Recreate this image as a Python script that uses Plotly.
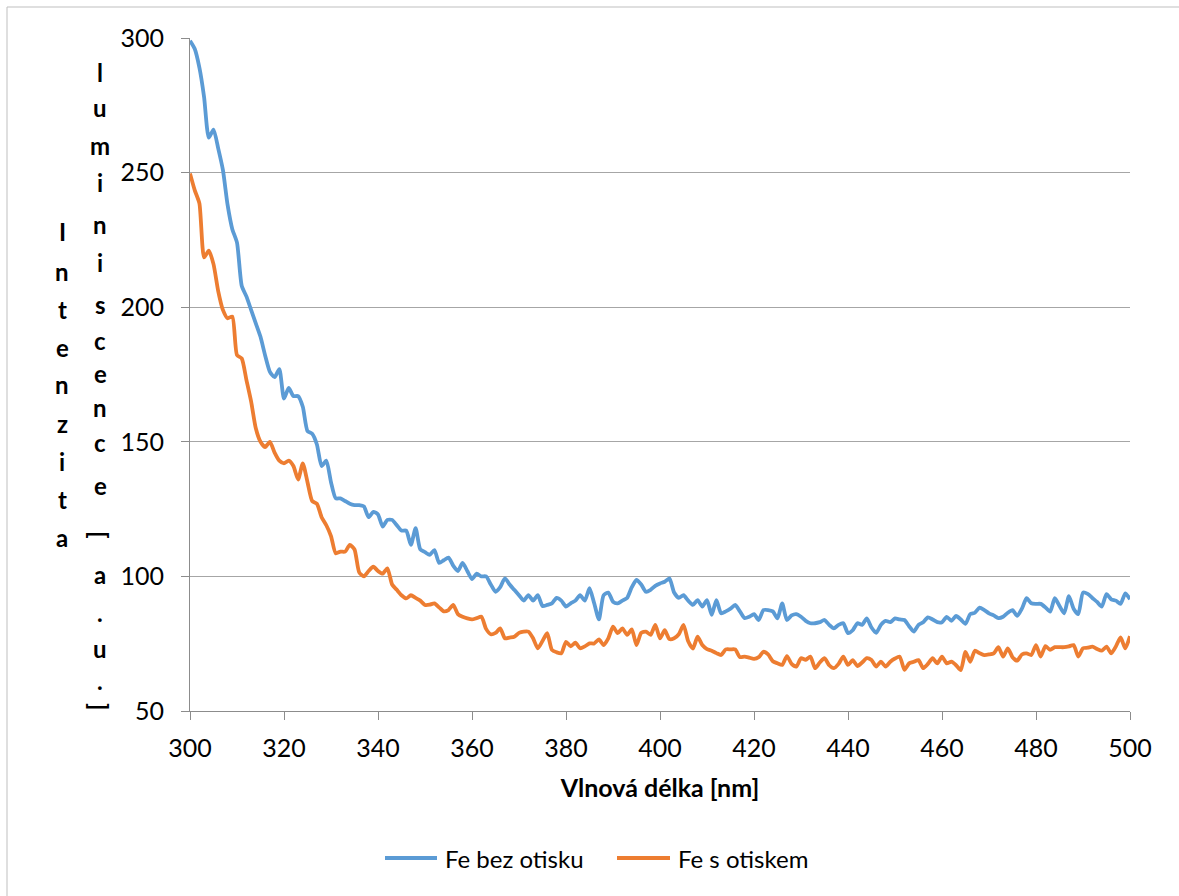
import plotly.graph_objects as go

# Wavelength axis (nm), 1 nm step
wavelength = list(range(300, 501))

# Luminescence intensity [a.u.] – Fe without imprint
fe_bez_otisku = [
    299, 296, 289, 278, 263, 266, 259, 251, 238, 229,
    224, 208, 204, 199, 194, 189, 182, 176, 174, 177,
    166, 170, 167, 167, 163, 154, 153, 149, 141, 143,
    135, 129, 129, 128, 127, 126.5, 126.5, 126, 122, 124,
    123, 118.5, 121, 121, 119, 117, 117, 111.7, 117.9, 110,
    109, 108, 109.8, 105, 106, 107, 104, 102, 105, 102,
    99, 101, 100, 100, 97, 94.3, 96, 99.3, 97, 95,
    93, 91, 93, 91, 93, 89, 89.4, 90, 92, 91,
    88.8, 90, 91, 93, 91, 95.6, 90, 84, 93, 94,
    90.6, 90, 91, 92, 96, 98.7, 97, 94.3, 95, 96.5,
    97.4, 98, 99.3, 94, 92, 93, 91, 89.4, 91.2, 88.8,
    91.2, 85.7, 91.2, 86.3, 87, 88, 89.4, 87, 84.5, 85,
    86, 83.8, 87.5, 87.5, 87, 84.4, 90, 83.8, 85.5, 86,
    85, 83.5, 82.6, 82.6, 83, 83.8, 82, 80.7, 82, 82.6,
    78.9, 80, 82.6, 82, 84.4, 81, 79, 82, 83.5, 83,
    84.4, 84, 83.8, 81.5, 79.5, 82, 83, 84.8, 84, 83,
    83, 85, 83.5, 85.3, 84, 82.4, 86, 86.5, 88.4, 87.5,
    86.3, 85.5, 84.5, 85, 86.5, 87.5, 85.3, 88, 91.9, 90,
    89.8, 89.8, 88.5, 86.9, 91.9, 89, 86.3, 92.7, 88, 86,
    94, 93.5, 92, 90.5, 88.8, 93.4, 91.5, 91, 89.8, 93.7,
    91.5,
]

# Luminescence intensity [a.u.] – Fe with imprint
fe_s_otiskem = [
    249.7, 243.5, 238.6, 218.5, 221, 216, 206, 199, 195.9, 196.5,
    182.2, 181, 173, 165, 155, 150, 148, 150, 146, 143,
    142, 143, 141, 136, 142, 135, 128, 127, 122, 119,
    115, 108.6, 109.2, 109.2, 111.7, 110, 101.5, 100, 102, 103.6,
    102, 101, 103, 97, 95, 93, 91.8, 93, 92, 91,
    89.4, 89.5, 90, 88.5, 87, 87.5, 89.4, 86, 85, 84.4,
    84, 84.5, 85, 80.5, 78.5, 79, 80.7, 77, 77.3, 77.6,
    79, 79.5, 79.5, 77, 73.3, 76, 78.9, 72.7, 71.8, 71.4,
    75.7, 74, 75.4, 73.3, 74, 75.1, 75.1, 76.6, 74.5, 77,
    81.3, 78.9, 80.7, 78.3, 80.3, 74.5, 79, 79.5, 78.3, 82,
    77, 80, 76.7, 77, 78.5, 82, 75.9, 73.2, 77.6, 74.5,
    73, 72.4, 71.5, 70.8, 72.9, 72.9, 72.9, 70, 70.2, 69.8,
    69.4, 70, 72, 71, 68.5, 67.7, 67.1, 70.4, 67.5, 66.5,
    69.6, 69, 70.2, 65.9, 68, 69.6, 67, 65.9, 67.5, 70.2,
    67.1, 68.9, 66.7, 68, 69.6, 68.9, 66.5, 68.3, 66.5, 68.3,
    69.5, 70.2, 65.3, 67.7, 68.3, 68.9, 65.9, 67.5, 69.6, 67.7,
    70.2, 67.7, 68.3, 67, 65.2, 72, 68.3, 72.4, 71.5, 70.8,
    71, 71.4, 73.7, 70.2, 73.3, 70, 68.7, 71, 71.4, 70.8,
    74.5, 70.2, 74.1, 72.7, 73.7, 73.7, 73.7, 74, 74.5, 70.2,
    73.3, 73.5, 73.9, 73, 72.4, 73.9, 71.4, 74, 77.3, 73.3,
    77.8,
]

series_names = ["Fe bez otisku", "Fe s otiskem"]
series_colors = ["#5B9BD5", "#ED7D31"]

x_ticks = list(range(300, 501, 20))
y_ticks = list(range(50, 301, 50))

FONT = "Lato, 'Open Sans', sans-serif"
W, H = 1179, 896
M_L, M_R, M_T, M_B = 190, 49, 38, 185
PW, PH = W - M_L - M_R, H - M_T - M_B


def px_to_paper_x(px):
    return (px - M_L) / PW


def px_to_paper_y(py):
    return (H - M_B - py) / PH


fig = go.Figure()
for name, vals, col in zip(series_names, [fe_bez_otisku, fe_s_otiskem], series_colors):
    fig.add_trace(go.Scatter(
        x=wavelength, y=vals, name=name, mode="lines", showlegend=False,
        line=dict(color=col, width=3.8, shape="spline", smoothing=0.6),
    ))

# Stacked (vertical) y-axis title, wrapped into two columns;
# each column: (text, x centre in px, y centre of every character in px)
annotations = []
columns = [
    ("Intenzita", 62, [232, 271, 309, 347, 385, 423, 461, 499, 537]),
    ("luminiscence[a.u.]", 100,
     [72, 108, 145, 182, 224, 262, 304, 340, 373, 407, 442, 485, 535, 574, 612, 648, 680, 707]),
]
for text, cx, ys in columns:
    for ch, cy in zip(text, ys):
        angle = 90 if ch in "[]" else 0
        annotations.append(dict(
            text=f"<b>{ch}</b>", x=px_to_paper_x(cx), y=px_to_paper_y(cy),
            xref="paper", yref="paper", showarrow=False, textangle=angle,
            xanchor="center", yanchor="middle",
            font=dict(family=FONT, size=24, color="#000000"),
        ))

# Legend row below the axis title: line sample + label for each series
shapes = []
legend_items = [(385, 437, 443), (617, 670, 676)]
legend_y = 858
for (lx0, lx1, tx), name, col in zip(legend_items, series_names, series_colors):
    shapes.append(dict(
        type="line", xref="paper", yref="paper",
        x0=px_to_paper_x(lx0), x1=px_to_paper_x(lx1),
        y0=px_to_paper_y(legend_y), y1=px_to_paper_y(legend_y),
        line=dict(color=col, width=3.8),
    ))
    annotations.append(dict(
        text=name, x=px_to_paper_x(tx), y=px_to_paper_y(legend_y),
        xref="paper", yref="paper", showarrow=False,
        xanchor="left", yanchor="middle",
        font=dict(family=FONT, size=24, color="#000000"),
    ))

# Outer chart frame
shapes.append(dict(
    type="rect", xref="paper", yref="paper",
    x0=px_to_paper_x(7), y0=px_to_paper_y(905),
    x1=px_to_paper_x(1190), y1=px_to_paper_y(7),
    line=dict(color="#BFBFBF", width=1), fillcolor="rgba(0,0,0,0)", layer="below",
))

fig.update_layout(
    width=W, height=H,
    margin=dict(l=M_L, r=M_R, t=M_T, b=M_B),
    paper_bgcolor="white", plot_bgcolor="white",
    font=dict(family=FONT, size=24, color="#000000"),
    annotations=annotations,
    shapes=shapes,
    showlegend=False,
)

fig.update_xaxes(
    range=[300, 500], tickvals=x_ticks, ticktext=[str(v) for v in x_ticks],
    showgrid=False, showline=True, linecolor="#8C8C8C", linewidth=1,
    ticks="outside", ticklen=8, tickcolor="#8C8C8C", tickwidth=1,
    tickfont=dict(family=FONT, size=25), ticklabelstandoff=7,
    title=dict(text="<b>Vlnová délka [nm]</b>", font=dict(family=FONT, size=25), standoff=18),
    zeroline=False,
)
fig.update_yaxes(
    range=[50, 300], tickvals=y_ticks, ticktext=[str(v) for v in y_ticks],
    showgrid=True, gridcolor="#A6A6A6", gridwidth=1,
    showline=True, linecolor="#8C8C8C", linewidth=1,
    ticks="outside", ticklen=8, tickcolor="#8C8C8C", tickwidth=1,
    tickfont=dict(family=FONT, size=25), ticklabelstandoff=12,
    zeroline=False,
)

fig.write_html("out.html")
